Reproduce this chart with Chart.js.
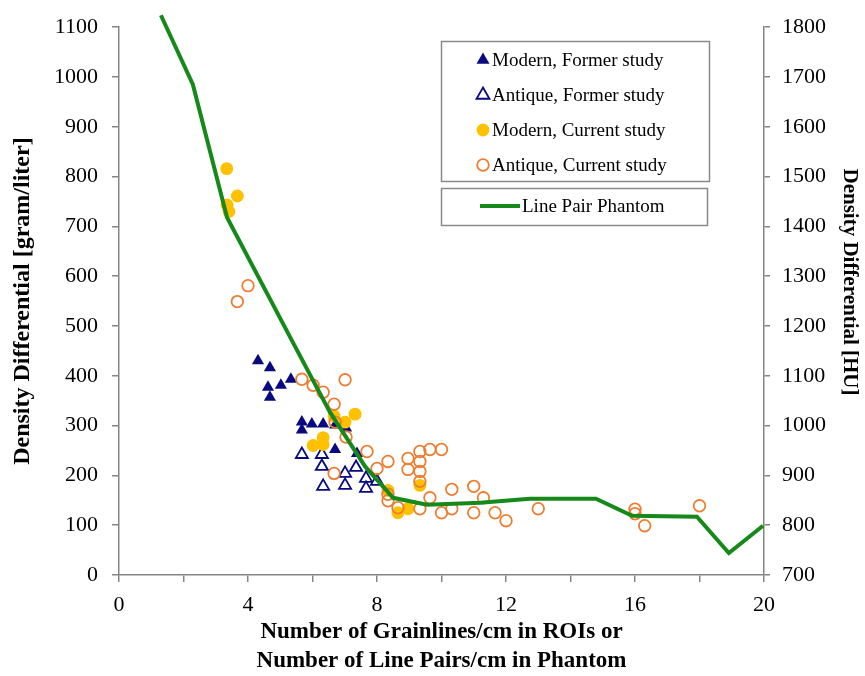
<!DOCTYPE html>
<html>
<head>
<meta charset="utf-8">
<script src="https://cdn.jsdelivr.net/npm/chart.js"></script>
<style>
  body { margin: 0; background: #fff; }
  #wrap { width: 865px; height: 676px; }
</style>
</head>
<body>
<div id="wrap"><canvas id="myChart" width="865" height="676"></canvas></div>
<script>
// values

// Line Pair Phantom (right axis, HU)
const phantomX = [1.3, 2.29, 3.35, 5.4, 6.54, 7.63, 8.5, 9.55, 11.2, 12.74, 14.79, 15.91, 17.92, 18.91, 19.97];
const phantomHU = [1824, 1685, 1418, 1166, 1027, 918, 855, 841, 845, 853, 853, 819, 817, 744, 799];

// Modern, Former study
const modernFormerX = [4.31, 4.68, 4.62, 5.02, 4.68, 5.33, 5.67, 5.67, 5.98, 6.33, 6.7, 7.04, 6.7, 7.38];
const modernFormerY = [430, 416, 377, 381, 357, 393, 307, 291, 303, 303, 301, 295, 252, 244];

// Antique, Former study
const antiqueFormerX = [5.67, 6.29, 6.29, 6.33, 7.01, 7.01, 7.35, 7.66, 7.66, 8.0];
const antiqueFormerY = [242, 242, 218, 178, 204, 180, 216, 194, 174, 188];

// Modern, Current study
const modernCurrentX = [3.34, 3.67, 3.35, 3.41, 7.32, 7.01, 6.67, 6.33, 6.02, 6.33, 8.34, 9.33, 8.65, 8.96];
const modernCurrentY = [816, 761, 743, 730, 323, 307, 319, 276, 260, 262, 170, 180, 125, 133];

// Antique, Current study
const antiqueCurrentX = [3.67, 4.0, 5.67, 6.02, 6.33, 6.67, 7.01, 6.7, 7.04, 6.67,
  7.69, 8.0, 8.34, 8.34, 8.34, 8.65, 8.96, 8.96, 9.33, 9.33, 9.33, 9.33, 9.33,
  9.64, 9.64, 10.0, 10.0, 10.32, 10.32, 11.0, 11.0, 11.3, 11.66, 12.0, 13.0,
  16.0, 16.0, 16.3, 18.0];
const antiqueCurrentY = [549, 581, 393, 381, 367, 343, 392, 307, 277, 204,
  248, 214, 228, 162, 149, 135, 234, 212, 248, 228, 208, 188, 133,
  252, 155, 252, 125, 172, 133, 178, 125, 155, 125, 109, 133,
  132, 123, 99, 139];

const xTicksMajor = 4;
const rightTitle = 'Density Differential [HU]';

function pairs(xs, ys) {
  return xs.map((x, i) => ({ x: x, y: ys[i] }));
}

const serif = "'Liberation Serif', 'Times New Roman', serif";
const navy = '#0a0a80';
const gold = '#ffc000';
const orange = '#ed7d31';
const green = '#15891a';
const axisGray = '#858585';

// two legend boxes like the original, plus the right axis title
const legendBoxes = {
  id: 'legendBoxes',
  afterDraw(chart) {
    const ctx = chart.ctx;
    const ds = chart.data.datasets;
    ctx.save();
    ctx.strokeStyle = '#8a8a8a';
    ctx.lineWidth = 1.5;
    ctx.strokeRect(441.5, 41.5, 268, 140);
    ctx.strokeRect(441.5, 188.5, 266, 37);

    ctx.font = '19px ' + serif;
    ctx.fillStyle = '#000';
    ctx.textBaseline = 'middle';

    const rows = [ds[4], ds[3], ds[2], ds[1]];
    rows.forEach((d, i) => {
      const cy = 60 + i * 35;
      const cx = 483;
      ctx.lineWidth = d.borderWidth;
      ctx.strokeStyle = d.borderColor;
      ctx.fillStyle = d.backgroundColor;
      ctx.beginPath();
      if (d.pointStyle === 'triangle') {
        const r = 7.5;
        ctx.moveTo(cx, cy - r);
        ctx.lineTo(cx + r * 0.866, cy + r * 0.5);
        ctx.lineTo(cx - r * 0.866, cy + r * 0.5);
        ctx.closePath();
      } else {
        ctx.arc(cx, cy, d.pointRadius, 0, Math.PI * 2);
      }
      ctx.fill();
      if (d.borderWidth) ctx.stroke();
      ctx.fillStyle = '#000';
      ctx.fillText(d.label, 492, cy + 1);
    });

    const ly = 206;
    ctx.strokeStyle = ds[0].borderColor;
    ctx.lineWidth = ds[0].borderWidth;
    ctx.beginPath();
    ctx.moveTo(480, ly);
    ctx.lineTo(520, ly);
    ctx.stroke();
    ctx.fillStyle = '#000';
    ctx.fillText(ds[0].label, 522, ly + 1);

    // right axis title sits a bit above the middle in the original
    ctx.translate(849, 282);
    ctx.rotate(Math.PI / 2);
    ctx.textAlign = 'center';
    ctx.font = 'bold 21px ' + serif;
    ctx.fillText(rightTitle, 0, 0);
    ctx.restore();
  }
};

new Chart('myChart', {
  type: 'scatter',
  data: {
    datasets: [
      {
        type: 'line',
        label: 'Line Pair Phantom',
        data: pairs(phantomX, phantomHU),
        yAxisID: 'y2',
        borderColor: green,
        backgroundColor: green,
        borderWidth: 4,
        pointRadius: 0,
        tension: 0,
        clip: false
      },
      {
        label: 'Antique, Current study',
        data: pairs(antiqueCurrentX, antiqueCurrentY),
        pointStyle: 'circle',
        pointRadius: 5.8,
        borderWidth: 1.8,
        borderColor: orange,
        backgroundColor: 'rgba(255,255,255,0)'
      },
      {
        label: 'Modern, Current study',
        data: pairs(modernCurrentX, modernCurrentY),
        pointStyle: 'circle',
        pointRadius: 6.4,
        borderWidth: 0,
        borderColor: gold,
        backgroundColor: gold
      },
      {
        label: 'Antique, Former study',
        data: pairs(antiqueFormerX, antiqueFormerY),
        pointStyle: 'triangle',
        pointRadius: 7,
        borderWidth: 1.8,
        borderColor: navy,
        backgroundColor: '#ffffff'
      },
      {
        label: 'Modern, Former study',
        data: pairs(modernFormerX, modernFormerY),
        pointStyle: 'triangle',
        pointRadius: 7,
        borderWidth: 0,
        borderColor: navy,
        backgroundColor: navy
      }
    ]
  },
  options: {
    responsive: false,
    animation: false,
    devicePixelRatio: 1,
    layout: { padding: { top: 20, left: 0, right: 0, bottom: 0 } },
    plugins: {
      legend: { display: false },
      tooltip: { enabled: false }
    },
    scales: {
      x: {
        type: 'linear',
        min: 0,
        max: 20,
        border: { color: axisGray, width: 1.5 },
        grid: { drawOnChartArea: false, color: axisGray, tickLength: 7, lineWidth: 1.5 },
        ticks: {
          stepSize: 2,
          padding: 10,
          color: '#000',
          font: { family: serif, size: 22 },
          maxRotation: 0,
          autoSkip: false,
          callback: (v) => (v % xTicksMajor === 0 ? String(v) : '')
        },
        title: {
          display: true,
          text: ['Number of Grainlines/cm in ROIs or', 'Number of Line Pairs/cm in Phantom'],
          color: '#000',
          font: { family: serif, size: 23, weight: 'bold', lineHeight: 1.26 },
          padding: { top: 0, bottom: 0 }
        },
        afterFit: (scale) => { scale.height = 101; }
      },
      y: {
        type: 'linear',
        position: 'left',
        min: 0,
        max: 1100,
        border: { color: axisGray, width: 1.5 },
        grid: { drawOnChartArea: false, color: axisGray, tickLength: 7, lineWidth: 1.5 },
        ticks: {
          stepSize: 100,
          padding: 14,
          color: '#000',
          font: { family: serif, size: 22 },
          callback: (v) => String(v)
        },
        title: {
          display: true,
          text: 'Density Differential [gram/liter]',
          color: '#000',
          font: { family: serif, size: 24, weight: 'bold' },
          padding: { top: 8, bottom: 0 }
        },
        afterFit: (scale) => { scale.width = 119; }
      },
      y2: {
        type: 'linear',
        position: 'right',
        min: 700,
        max: 1800,
        border: { color: axisGray, width: 1.5 },
        grid: { drawOnChartArea: false, color: axisGray, tickLength: 6, lineWidth: 1.5 },
        ticks: {
          stepSize: 100,
          padding: 12,
          color: '#000',
          font: { family: serif, size: 22 },
          callback: (v) => String(v)
        },
        title: { display: false },
        afterFit: (scale) => { scale.width = 101; }
      }
    }
  },
  plugins: [legendBoxes]
});
</script>
</body>
</html>
